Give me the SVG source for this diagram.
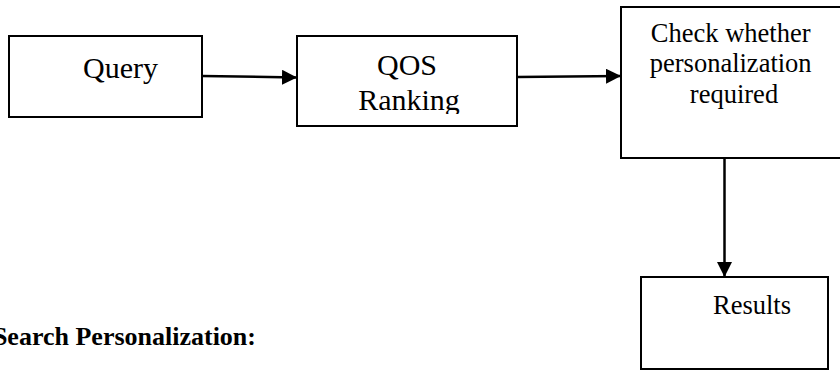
<svg xmlns="http://www.w3.org/2000/svg" width="840" height="372" viewBox="0 0 840 372">
<style>
.box{fill:#fff;stroke:#000;stroke-width:2}
.t{font-family:"Liberation Serif","Times New Roman",serif;fill:#000}
.conn{stroke:#000;stroke-width:2.5;fill:none}
</style>
<defs>
<marker id="ah" markerUnits="userSpaceOnUse" markerWidth="16" markerHeight="16" refX="15" refY="7.5" orient="auto">
<path d="M0,0 L15,7.5 L0,15 Z" fill="#000"/>
</marker>
<clipPath id="qosclip"><rect x="297" y="36" width="221" height="78"/></clipPath>
</defs>
<rect width="840" height="372" fill="#fff"/>
<g id="query">
<rect class="box" x="9" y="36" width="193" height="81"/>
<text class="t" x="83" y="78" font-size="30">Query</text>
</g>
<g id="qos">
<rect class="box" x="297" y="36" width="220" height="90"/>
<g clip-path="url(#qosclip)">
<text class="t" x="407" y="75" font-size="30" text-anchor="middle">QOS</text>
<text class="t" x="409" y="110" font-size="30" text-anchor="middle">Ranking</text>
</g>
</g>
<g id="check">
<rect class="box" x="621" y="7" width="226" height="151"/>
<text class="t" font-size="26.5" text-anchor="middle">
<tspan x="734" y="42">Check whether</tspan>
<tspan x="734" y="72">personalization</tspan>
<tspan x="734" y="103">required</tspan>
</text>
</g>
<g id="results">
<rect class="box" x="641" y="277" width="187" height="92"/>
<text class="t" x="713" y="314" font-size="26.5">Results</text>
</g>
<g id="connectors">
<line class="conn" x1="202" y1="76" x2="297" y2="77.5" marker-end="url(#ah)"/>
<line class="conn" x1="517" y1="77" x2="621" y2="76" marker-end="url(#ah)"/>
<line class="conn" x1="724.5" y1="158" x2="724.5" y2="277" marker-end="url(#ah)"/>
</g>
<text class="t" x="256" y="345" font-size="26" font-weight="bold" text-anchor="end">Search Personalization:</text>
</svg>
